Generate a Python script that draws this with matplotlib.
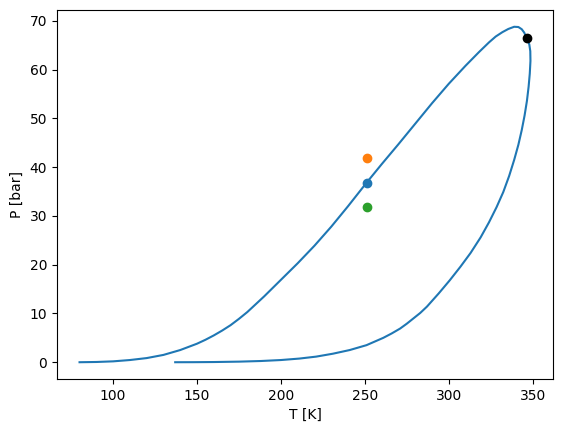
import matplotlib
matplotlib.use("Agg")
import matplotlib.pyplot as plt

# Phase envelope: bubble branch (low T -> critical) then dew branch (critical -> low T)
T_env = [80, 90, 100, 110, 120, 130, 140, 150, 155, 160, 165, 170, 175, 180, 185, 190,
         200, 210, 220, 230, 240, 251, 260, 270, 280, 290, 300, 310, 318, 324, 328, 332,
         335.5, 339, 341.5, 343.5, 345, 346.5,
         348.0, 348.6, 348.7, 348.3, 347.6, 346.6, 345.2, 343.5, 341.5, 339, 336,
         332.5, 328.5, 324, 319, 313, 307, 300.6, 294, 287, 283, 279, 275, 271, 266,
         261, 251, 241, 231, 221, 211, 200, 188, 175, 160, 148, 137]
P_env = [0.0, 0.05, 0.18, 0.45, 0.85, 1.5, 2.5, 3.8, 4.6, 5.5, 6.5, 7.6, 8.9, 10.3, 11.9, 13.5,
         16.9, 20.3, 23.9, 27.8, 32.0, 36.8, 40.6, 44.7, 48.9, 53.1, 57.1, 60.8, 63.6, 65.6, 66.8, 67.7,
         68.35, 68.8, 68.75, 68.3, 67.6, 66.4,
         65.2, 63.8, 61.8, 59.2, 56.5, 53.6, 50.6, 47.6, 44.6, 41.5, 38.2,
         34.9, 31.8, 28.7, 25.6, 22.4, 19.6, 16.8, 14.1, 11.4, 10.1, 9.0, 7.9, 6.9, 5.9,
         5.0, 3.5, 2.5, 1.75, 1.15, 0.75, 0.45, 0.25, 0.12, 0.04, 0.01, 0.0]

T_pts = [251.0, 251.0, 251.0]
P_pts = [36.8, 41.8, 31.8]
T_crit = 346.5
P_crit = 66.4

fig = plt.figure(figsize=(5.62, 4.32), dpi=100)
ax = fig.add_axes([57/562, 53/432, 496/562, 369/432])
ax.plot(T_env, P_env)
for t, p in zip(T_pts, P_pts):
    ax.scatter(t, p, zorder=3)
ax.scatter(T_crit, P_crit, color="black", zorder=3)
ax.set_xlabel("T [K]")
ax.set_ylabel("P [bar]")
fig.savefig("out.png", dpi=100)
